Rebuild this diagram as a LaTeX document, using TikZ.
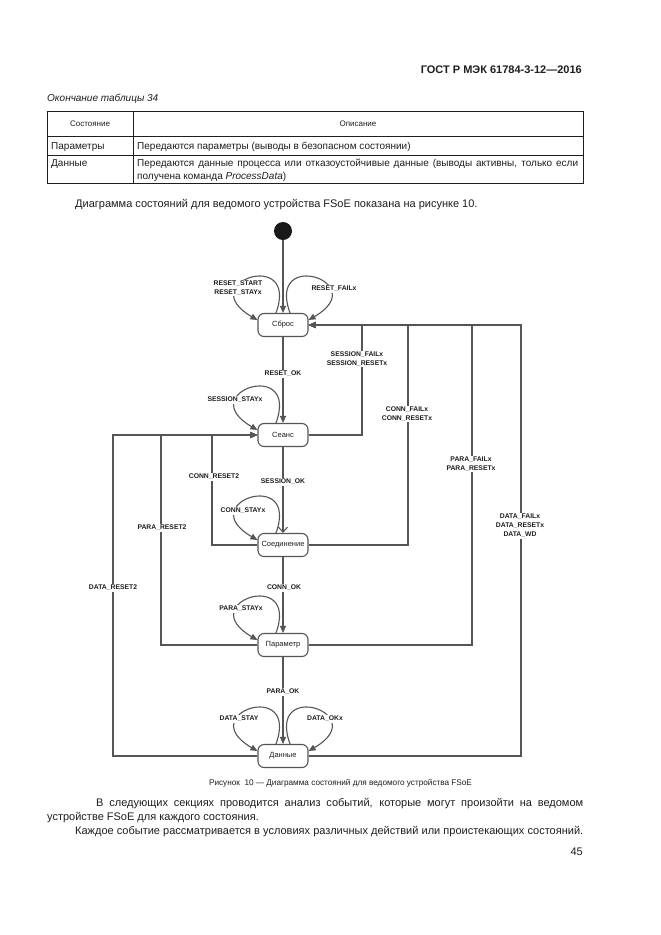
\documentclass[tikz,border=0pt]{standalone}
\usepackage{fontspec}
\setmainfont{Liberation Sans}
\usetikzlibrary{arrows.meta,calc}
\definecolor{ln}{HTML}{555555}
\definecolor{tx}{HTML}{1E1E1E}
\begin{document}
\begin{tikzpicture}[x=1pt,y=1pt,
  state/.style={draw=ln, line width=1.1pt, rounded corners=6pt, minimum width=50pt, minimum height=23pt, inner xsep=3pt, inner ysep=1pt, font=\fontsize{7.5}{8}\selectfont, text=tx, fill=white},
  lbl/.style={font=\fontsize{6.8}{9}\selectfont\bfseries, text=tx, fill=white, inner sep=1pt, align=center},
  arr/.style={draw=ln, line width=1.1pt, -{Triangle[length=7pt,width=6pt]}},
  barb/.style={draw=ln, line width=1.1pt, -{Straight Barb[length=5pt,width=9pt]}},
  tline/.style={draw=tx, line width=0.8pt},
  body/.style={font=\fontsize{11}{12}\selectfont, text=tx, inner sep=0pt},
  tbl/.style={font=\fontsize{10}{11}\selectfont, text=tx, inner sep=0pt},
  tblh/.style={font=\fontsize{8}{9}\selectfont, text=tx, inner sep=0pt},
  lloop/.style={arr, out=70, in=150, out distance=70pt, in distance=75pt},
  rloop/.style={arr, out=110, in=30, out distance=70pt, in distance=75pt}
]
\useasboundingbox[fill=white] (0,0) rectangle (661,-935);

% header
\node[font=\fontsize{11}{12}\selectfont\bfseries, text=tx, inner sep=0pt, anchor=base east] (hdr) at (582,-73) {ГОСТ Р МЭК 61784-3-12—2016};
\node[font=\fontsize{10}{11}\selectfont\itshape, text=tx, inner sep=0pt, anchor=base west] (tcap) at (47,-101) {Окончание таблицы 34};

% table
\draw[tline] (47,-111) rectangle (583,-183);
\draw[tline] (47,-136) -- (583,-136);
\draw[tline] (47,-155) -- (583,-155);
\draw[tline] (133,-111) -- (133,-183);
\node[tblh] (th1) at (90,-124) {Состояние};
\node[tblh] (th2) at (358,-124) {Описание};
\node[tbl, anchor=base west] (r1a) at (51,-149) {Параметры};
\node[tbl, anchor=base west] (r1b) at (137,-149) {Передаются параметры (выводы в безопасном состоянии)};
\node[tbl, anchor=base west] (r2a) at (51,-166) {Данные};
\node[tbl, anchor=base west] (r2b) at (137,-166) {\makebox[441pt][s]{Передаются данные процесса или отказоустойчивые данные (выводы активны, только если}};
\node[tbl, anchor=base west] (r2c) at (137,-179) {получена команда \textit{ProcessData})};

\node[body, anchor=base west] (intro) at (75,-207) {Диаграмма состояний для ведомого устройства FSoE показана на рисунке 10.};

% states
\node[circle, fill=black!90, minimum size=18pt, inner sep=0pt] (init) at (283,-231) {};
\node[state] (sb) at (283,-325) {Сброс};
\node[state] (se) at (283,-435) {Сеанс};
\node[state] (so) at (283,-545) {Соединение};
\node[state] (pa) at (283,-645) {Параметр};
\node[state] (da) at (283,-756) {Данные};

% bend coordinates
\coordinate (r1) at (362,-325);
\coordinate (r2) at (408,-325);
\coordinate (r3) at (472,-325);
\coordinate (r4) at (521,-325);
\coordinate (l1) at (212,-435);
\coordinate (l2) at (161,-435);
\coordinate (l3) at (113,-435);

% right side returns to Сброс
\draw[arr] (da.east) -| (r4) -- (sb.east);
\draw[arr] (pa.east) -| (r3) -- (sb.east);
\draw[arr] (so.east) -| (r2) -- (sb.east);
\draw[arr] (se.east) -| (r1) -- (sb.east);
% left side returns to Сеанс
\draw[arr] (da.west) -| (l3) -- (se.west);
\draw[arr] (pa.west) -| (l2) -- (se.west);
\draw[arr] (so.west) -| (l1) -- (se.west);

% main chain
\draw[arr] (init) -- (sb.north);
\draw[arr] (sb.south) -- (se.north);
\draw[barb] (se.south) -- (so.north);
\draw[arr] (so.south) -- (pa.north);
\draw[arr] (pa.south) -- (da.north);

% self loops
\draw[lloop] ([xshift=-7pt]sb.north) to ([yshift=5pt]sb.west);
\draw[rloop] ([xshift=7pt]sb.north) to ([yshift=5pt]sb.east);
\draw[lloop] ([xshift=-7pt]se.north) to ([yshift=5pt]se.west);
\draw[lloop] ([xshift=-7pt]so.north) to ([yshift=5pt]so.west);
\draw[lloop] ([xshift=-7pt]pa.north) to ([yshift=5pt]pa.west);
\draw[lloop] ([xshift=-7pt]da.north) to ([yshift=5pt]da.west);
\draw[rloop] ([xshift=7pt]da.north) to ([yshift=5pt]da.east);

% labels
\node[lbl] (t1) at (238,-288) {RESET\_START\\RESET\_STAYx};
\node[lbl] (t2) at (334,-289) {RESET\_FAILx};
\node[lbl] (t3) at (357,-359) {SESSION\_FAILx\\SESSION\_RESETx};
\node[lbl] (t4) at (283,-374) {RESET\_OK};
\node[lbl] (t5) at (235,-400) {SESSION\_STAYx};
\node[lbl] (t6) at (407,-414) {CONN\_FAILx\\CONN\_RESETx};
\node[lbl] (t7) at (471,-464) {PARA\_FAILx\\PARA\_RESETx};
\node[lbl] (t8) at (214,-477) {CONN\_RESET2};
\node[lbl] (t9) at (283,-482) {SESSION\_OK};
\node[lbl] (t10) at (243,-511) {CONN\_STAYx};
\node[lbl] (t11) at (162,-528) {PARA\_RESET2};
\node[lbl] (t12) at (520,-526) {DATA\_FAILx\\DATA\_RESETx\\DATA\_WD};
\node[lbl] (t13) at (113,-588) {DATA\_RESET2};
\node[lbl] (t14) at (284,-588) {CONN\_OK};
\node[lbl] (t15) at (241,-609) {PARA\_STAYx};
\node[lbl] (t16) at (283,-692) {PARA\_OK};
\node[lbl] (t17) at (239,-719) {DATA\_STAY};
\node[lbl] (t18) at (325,-719) {DATA\_OKx};

% caption and text
\node[font=\fontsize{8.2}{10}\selectfont, text=tx, inner sep=0pt, anchor=base] (cap) at (340.5,-785) {Рисунок\ \ 10 — Диаграмма состояний для ведомого устройства FSoE};
\node[body, anchor=base west] (p1) at (96,-806) {\makebox[487pt][s]{В следующих секциях проводится анализ событий, которые могут произойти на ведомом}};
\node[body, anchor=base west] (p2) at (47,-820) {устройстве FSoE для каждого состояния.};
\node[body, anchor=base west] (p3) at (75,-834) {\makebox[508pt][s]{Каждое событие рассматривается в условиях различных действий или проистекающих состояний.}};
\node[body, anchor=base east] (pg) at (583,-855) {45};
\end{tikzpicture}
\end{document}
